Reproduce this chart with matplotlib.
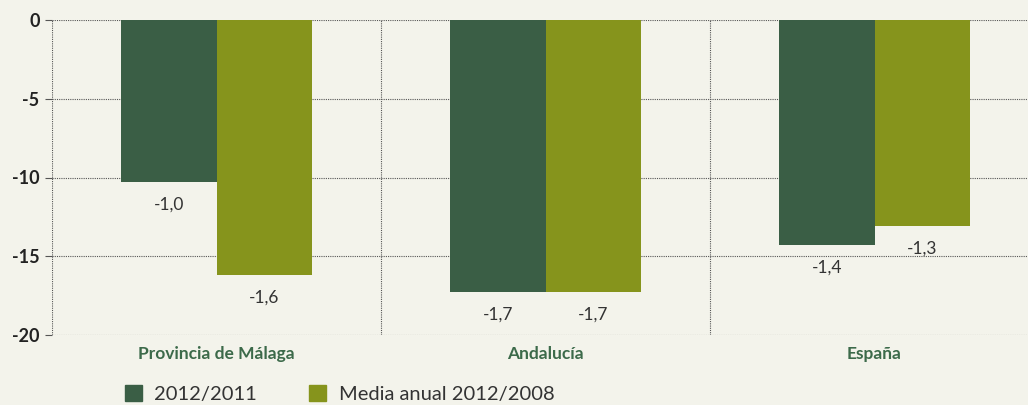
import matplotlib.pyplot as plt
from matplotlib.patches import Patch
import numpy as np

plt.rcParams['font.family'] = ['Lato', 'DejaVu Sans']

categories = ["Provincia de Málaga", "Andalucía", "España"]
serie_2012_2011 = [-10.3, -17.3, -14.3]
serie_media = [-16.2, -17.3, -13.1]
labels_2012_2011 = ["-1,0", "-1,7", "-1,4"]
labels_media = ["-1,6", "-1,7", "-1,3"]
series_names = ["2012/2011", "Media anual 2012/2008"]

bg = "#f3f3eb"
c_dark = "#3a5e45"
c_olive = "#86941c"

fig = plt.figure(figsize=(10.28, 4.05), dpi=100, facecolor=bg)
ax = fig.add_axes([52 / 1028, 1 - 335 / 405, 1 - 52 / 1028, 315 / 405])
ax.set_facecolor(bg)

x = np.arange(len(categories))
w = 0.29
ax.bar(x - w / 2, serie_2012_2011, w, color=c_dark, zorder=3)
ax.bar(x + w / 2, serie_media, w, color=c_olive, zorder=3)

for xi, v, t in zip(x - w / 2, serie_2012_2011, labels_2012_2011):
    ax.text(xi, v - 0.9, t, ha="center", va="top", fontsize=12.5, color="#333333")
for xi, v, t in zip(x + w / 2, serie_media, labels_media):
    ax.text(xi, v - 0.9, t, ha="center", va="top", fontsize=12.5, color="#333333")

ax.set_ylim(-20, 0)
ax.set_xlim(-0.5, 2.5 - 11 / 329)
ax.set_yticks([0, -5, -10, -15, -20])
ax.set_yticklabels(["0", "-5", "-10", "-15", "-20"], fontsize=13, fontweight="bold", color="#222222")
ax.set_xticks(x)
ax.set_xticklabels(categories, fontsize=12.5, fontweight="bold", color="#3c6a4a")
ax.tick_params(axis="x", length=0, pad=8)
ax.tick_params(axis="y", length=5, width=0.8, color="#555555", pad=4)

ax.grid(axis="y", linestyle=(0, (1, 1)), color="#555555", linewidth=0.8, zorder=1)
for b in [-0.5, 0.5, 1.5]:
    ax.axvline(b, linestyle=(0, (1, 1)), color="#555555", linewidth=0.8, zorder=1)
for s in ax.spines.values():
    s.set_visible(False)

handles = [Patch(color=c_dark), Patch(color=c_olive)]
fig.legend(handles, series_names, loc="upper left", bbox_to_anchor=(117 / 1028, 1 - 377 / 405),
           ncol=2, frameon=False, fontsize=14.5, handlelength=0.85, handleheight=0.85,
           columnspacing=2.6, handletextpad=0.6, labelcolor="#333333", borderaxespad=0)

fig.savefig("out.png", dpi=100, facecolor=bg)
